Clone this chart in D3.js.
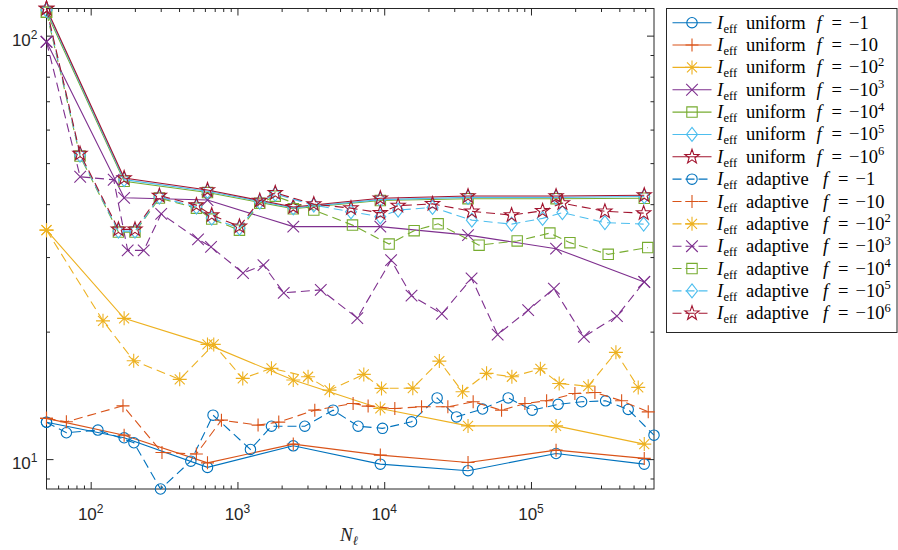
<!DOCTYPE html>
<meta charset="utf-8">
<style>
body { margin: 0; background: #fff; }
svg { display: block; }
</style>
<svg width="898" height="550"></svg>
<script src="https://d3js.org/d3.v7.min.js"></script>
<script>
// uniform refinement: same N for every f
var xUniform = [50, 169, 625, 2401, 9409, 37249, 148225, 591361]

var uni1   = [12.22, 11.23, 9.56, 10.75, 9.73, 9.39, 10.31, 9.73]
var uni10  = [12.48, 11.39, 9.80, 10.85, 10.22, 9.82, 10.50, 10.04]
var uni1e2 = [34.73, 21.5, 18.66, 15.37, 13.17, 11.98, 11.98, 10.85]
var uni1e3 = [96.7, 41.4, 40.9, 35.4, 35.4, 33.8, 31.4, 26.2]
var uni1e4 = [113.6, 45.3, 42.6, 39.0, 40.8, 41.2, 41.2, 41.3]
var uni1e5 = [114.9, 45.7, 42.9, 39.2, 41.0, 41.5, 41.5, 41.7]
var uni1e6 = [115.9, 46.1, 43.2, 39.4, 41.3, 41.8, 41.8, 42.0]

// adaptive refinement: every f has its own N
var xAda1 = [50, 68.3, 112, 197, 299, 481, 682, 1226, 1705, 2877, 4484, 6640, 9737, 15350, 22940, 31110, 46790, 69940, 101900, 153200, 221300, 322500, 459800, 689000]
var ada1  = [12.22, 11.54, 11.71, 10.93, 8.50, 9.89, 12.70, 10.54, 11.96, 11.96, 13.05, 11.96, 11.82, 12.25, 13.95, 12.58, 13.13, 13.95, 13.05, 13.47, 13.66, 13.73, 13.10, 11.39]

var xAda10 = [50, 68.3, 166, 306, 525, 778, 1382, 1912, 3365, 6138, 7768, 11810, 17960, 27140, 40370, 63030, 90900, 127800, 199200, 272600, 414600, 629500]
var ada10  = [12.48, 12.25, 13.36, 10.37, 10.28, 12.36, 12.03, 12.23, 13.05, 13.53, 13.34, 13.17, 13.29, 13.29, 13.66, 13.05, 13.53, 13.73, 14.29, 14.37, 13.73, 12.93]

var xAda1e2 = [50, 121.3, 196.4, 404.3, 689.5, 1087, 1705, 3029, 4238, 7261, 9585, 15660, 23750, 34180, 49820, 74110, 115900, 155700, 245400, 379100, 538000]
var ada1e2  = [34.73, 21.21, 17.07, 15.43, 18.66, 15.51, 16.38, 15.65, 14.55, 15.85, 14.69, 14.71, 17.04, 14.42, 15.94, 15.65, 16.34, 15.08, 14.87, 17.87, 14.77]

var xAda1e3 = [50, 84.8, 143.5, 178.7, 229.8, 302.4, 538.9, 660.7, 1092, 1504, 2068, 3697, 6556, 11140, 15350, 24700, 39370, 59290, 95700, 143300, 229400, 385100, 591361]
var ada1e3  = [96.7, 46.42, 45.67, 31.11, 31.11, 37.95, 33.02, 31.71, 27.49, 28.72, 24.70, 25.10, 21.53, 29.50, 24.32, 22.04, 26.71, 19.68, 22.48, 25.27, 19.45, 21.76, 26.22]

var xAda1e4 = [50, 84.6, 154.5, 200.4, 293.9, 525.5, 667.9, 1032, 1419, 1810, 3313, 6080, 10800, 15990, 23300, 44290, 80540, 134500, 184200, 335900, 624500]
var ada1e4  = [113.6, 51.94, 34.36, 34.36, 41.34, 39.14, 36.88, 34.73, 40.17, 41.78, 38.73, 35.69, 32.19, 34.63, 35.94, 32.01, 32.75, 34.18, 32.45, 30.45, 31.58]

var xAda1e5 = [50, 84.6, 154.5, 200.4, 293.9, 525.5, 667.9, 1032, 1419, 1810, 3313, 5938, 9406, 12440, 21340, 39550, 73770, 120000, 163700, 318900, 585700]
var ada1e5  = [114.9, 52.22, 34.54, 34.54, 41.57, 39.36, 37.08, 35.11, 40.45, 42.25, 39.79, 38.37, 37.34, 38.73, 39.30, 36.67, 35.89, 37.02, 38.20, 36.18, 35.89]

var xAda1e6 = xAda1e5
var ada1e6  = [115.9, 52.66, 34.87, 34.87, 41.91, 39.79, 37.69, 35.44, 40.78, 42.53, 40.01, 39.14, 38.16, 39.68, 40.06, 38.47, 37.69, 38.57, 40.23, 38.47, 38.10]

var fExponents = [0, 1, 2, 3, 4, 5, 6]
var colors = ['#0072BD', '#D95319', '#EDB120', '#7E2F8E', '#77AC30', '#4DBEEE', '#A2142F']
var markers = ['circle', 'plus', 'asterisk', 'x', 'square', 'diamond', 'star']

var xTickLabels = [100, 1000, 10000, 100000]
var yTickLabels = [10, 100]

var uniformSets = [uni1, uni10, uni1e2, uni1e3, uni1e4, uni1e5, uni1e6]
var adaptiveSets = [[xAda1, ada1], [xAda10, ada10], [xAda1e2, ada1e2], [xAda1e3, ada1e3],
                    [xAda1e4, ada1e4], [xAda1e5, ada1e5], [xAda1e6, ada1e6]]

var series = []
uniformSets.forEach((vals, i) => series.push({
  kind: 'uniform', exp: fExponents[i], color: colors[i], marker: markers[i], dash: null,
  pts: vals.map((v, j) => [xUniform[j], v])
}))
adaptiveSets.forEach((s, i) => series.push({
  kind: 'adaptive', exp: fExponents[i], color: colors[i], marker: markers[i], dash: '9,5',
  pts: s[1].map((v, j) => [s[0][j], v])
}))

var allPts = series.flatMap(s => s.pts)

const pLeft = 46.5, pRight = 654, pTop = 8.5, pBottom = 489
const axisColor = '#262626'
const serif = "'Liberation Serif', 'Times New Roman', serif"
const sans = "'Liberation Sans', Arial, sans-serif"

const x = d3.scaleLog().domain(d3.extent(allPts, p => p[0])).range([pLeft, pRight])
const y = d3.scaleLog().domain(d3.extent(allPts, p => p[1])).range([pBottom, pTop])

const svg = d3.select('svg')

function markerPath(type) {
  if (type === 'circle') { var r = 5.2; return `M${r},0A${r},${r} 0 1,1 ${-r},0A${r},${r} 0 1,1 ${r},0Z` }
  if (type === 'plus') { var s = 6.5; return `M${-s},0H${s}M0,${-s}V${s}` }
  if (type === 'x') { var d = 5.8; return `M${-d},${-d}L${d},${d}M${-d},${d}L${d},${-d}` }
  if (type === 'asterisk') {
    var s = 7, d = 5
    return `M${-s},0H${s}M0,${-s}V${s}M${-d},${-d}L${d},${d}M${-d},${d}L${d},${-d}`
  }
  if (type === 'square') { var h = 5.2; return `M${-h},${-h}H${h}V${h}H${-h}Z` }
  if (type === 'diamond') { var w = 5.5, h = 7; return `M0,${-h}L${w},0L0,${h}L${-w},0Z` }
  if (type === 'star') {
    var R = 7.5, ri = 3, p = []
    for (var k = 0; k < 10; k++) {
      var a = -Math.PI / 2 + k * Math.PI / 5, rr = k % 2 ? ri : R
      p.push([rr * Math.cos(a), rr * Math.sin(a)])
    }
    return 'M' + p.map(q => q[0].toFixed(2) + ',' + q[1].toFixed(2)).join('L') + 'Z'
  }
}

// axes box
svg.append('rect')
  .attr('x', pLeft).attr('y', pTop)
  .attr('width', pRight - pLeft).attr('height', pBottom - pTop)
  .attr('fill', 'none').attr('stroke', axisColor).attr('stroke-width', 1)

var xMinor = [], yMinor = []
for (var e = 1; e <= 5; e++) for (var m = 2; m <= 9; m++) {
  var v = m * Math.pow(10, e)
  if (v > x.domain()[0] && v < x.domain()[1]) xMinor.push(v)
}
for (var e = 0; e <= 2; e++) for (var m = 2; m <= 9; m++) {
  var v = m * Math.pow(10, e)
  if (v > y.domain()[0] && v < y.domain()[1]) yMinor.push(v)
}

function ticks(axisFn, scale, vals, len, pos) {
  var g = svg.append('g').attr('transform', pos)
    .call(axisFn(scale).tickValues(vals).tickSizeInner(len).tickSizeOuter(0).tickFormat(''))
  g.select('.domain').remove()
  g.selectAll('line').attr('stroke', axisColor).attr('stroke-width', 1)
  return g
}
ticks(d3.axisBottom, x, xMinor, -3.5, `translate(0,${pBottom})`)
ticks(d3.axisBottom, x, xTickLabels, -7, `translate(0,${pBottom})`)
ticks(d3.axisTop, x, xMinor, -3.5, `translate(0,${pTop})`)
ticks(d3.axisTop, x, xTickLabels, -7, `translate(0,${pTop})`)
ticks(d3.axisLeft, y, yMinor, -3.5, `translate(${pLeft},0)`)
ticks(d3.axisLeft, y, yTickLabels, -7, `translate(${pLeft},0)`)
ticks(d3.axisRight, y, yMinor, -3.5, `translate(${pRight},0)`)
ticks(d3.axisRight, y, yTickLabels, -7, `translate(${pRight},0)`)

function powLabel(sel, v) {
  sel.append('tspan').text('10')
  sel.append('tspan').attr('font-size', 12).attr('dy', -7).text(Math.round(Math.log10(v)))
}

svg.append('g').selectAll('text')
  .data(xTickLabels).enter().append('text')
  .attr('x', d => x(d)).attr('y', pBottom + 31)
  .attr('text-anchor', 'middle')
  .attr('font-family', sans).attr('font-size', 17)
  .attr('fill', axisColor)
  .each(function (d) { powLabel(d3.select(this), d) })

svg.append('g').selectAll('text')
  .data(yTickLabels).enter().append('text')
  .attr('x', pLeft - 9).attr('y', d => y(d) + 10)
  .attr('text-anchor', 'end')
  .attr('font-family', sans).attr('font-size', 17)
  .attr('fill', axisColor)
  .each(function (d) { powLabel(d3.select(this), d) })

var xl = svg.append('text')
  .attr('x', 349).attr('y', 541)
  .attr('text-anchor', 'middle')
  .attr('font-family', serif).attr('font-size', 19)
  .attr('fill', axisColor)
xl.append('tspan').attr('font-style', 'italic').text('N')
xl.append('tspan').attr('font-style', 'italic').attr('font-size', 13).attr('dy', 4).text('\u2113')

// series
const line = d3.line().x(p => x(p[0])).y(p => y(p[1]))

var sg = svg.append('g').selectAll('g')
  .data(series).enter().append('g')

sg.append('path')
  .attr('d', s => line(s.pts))
  .attr('fill', 'none')
  .attr('stroke', s => s.color)
  .attr('stroke-width', 1.1)
  .attr('stroke-dasharray', s => s.dash)

sg.each(function (s) {
  d3.select(this).selectAll('path.m')
    .data(s.pts).enter().append('path')
    .attr('class', 'm')
    .attr('transform', p => `translate(${x(p[0])},${y(p[1])})`)
    .attr('d', markerPath(s.marker))
    .attr('fill', 'none')
    .attr('stroke', s.color)
    .attr('stroke-width', 1.1)
})

// legend
const legX = 666.5, legY = 8.5, legW = 230.5, legH = 324, rowH = 22.35
var leg = svg.append('g')
leg.append('rect')
  .attr('x', legX).attr('y', legY).attr('width', legW).attr('height', legH)
  .attr('fill', '#fff').attr('stroke', axisColor).attr('stroke-width', 1)

var rows = leg.selectAll('g.row')
  .data(series).enter().append('g')
  .attr('class', 'row')
  .attr('transform', (s, i) => `translate(0,${legY + 14.2 + i * rowH})`)

rows.append('line')
  .attr('x1', 672.5).attr('x2', 711.5)
  .attr('stroke', s => s.color).attr('stroke-width', 1.1)
  .attr('stroke-dasharray', s => s.dash ? '9,4' : null)

rows.append('path')
  .attr('transform', 'translate(692,0)')
  .attr('d', s => markerPath(s.marker))
  .attr('fill', 'none').attr('stroke', s => s.color).attr('stroke-width', 1.1)

rows.append('text')
  .attr('y', 6)
  .attr('font-family', serif).attr('font-size', 18.5)
  .attr('fill', '#000')
  .each(function (s) {
    var t = d3.select(this)
    var fx = s.kind === 'uniform' ? 816.5 : 823
    t.append('tspan').attr('x', 717).attr('font-style', 'italic').text('I')
    t.append('tspan').attr('x', 723.5).attr('font-size', 12.5).attr('dy', 4).text('eff')
    t.append('tspan').attr('x', 746).attr('dy', -4).text(s.kind)
    t.append('tspan').attr('x', fx).attr('font-style', 'italic').text('f')
    t.append('tspan').attr('x', fx + 15).text('=')
    t.append('tspan').attr('x', fx + 32.5).text('\u2212' + (s.exp === 0 ? '1' : '10'))
    if (s.exp > 1) t.append('tspan').attr('font-size', 12.5).attr('dy', -7.5).text(s.exp)
  })
</script>
